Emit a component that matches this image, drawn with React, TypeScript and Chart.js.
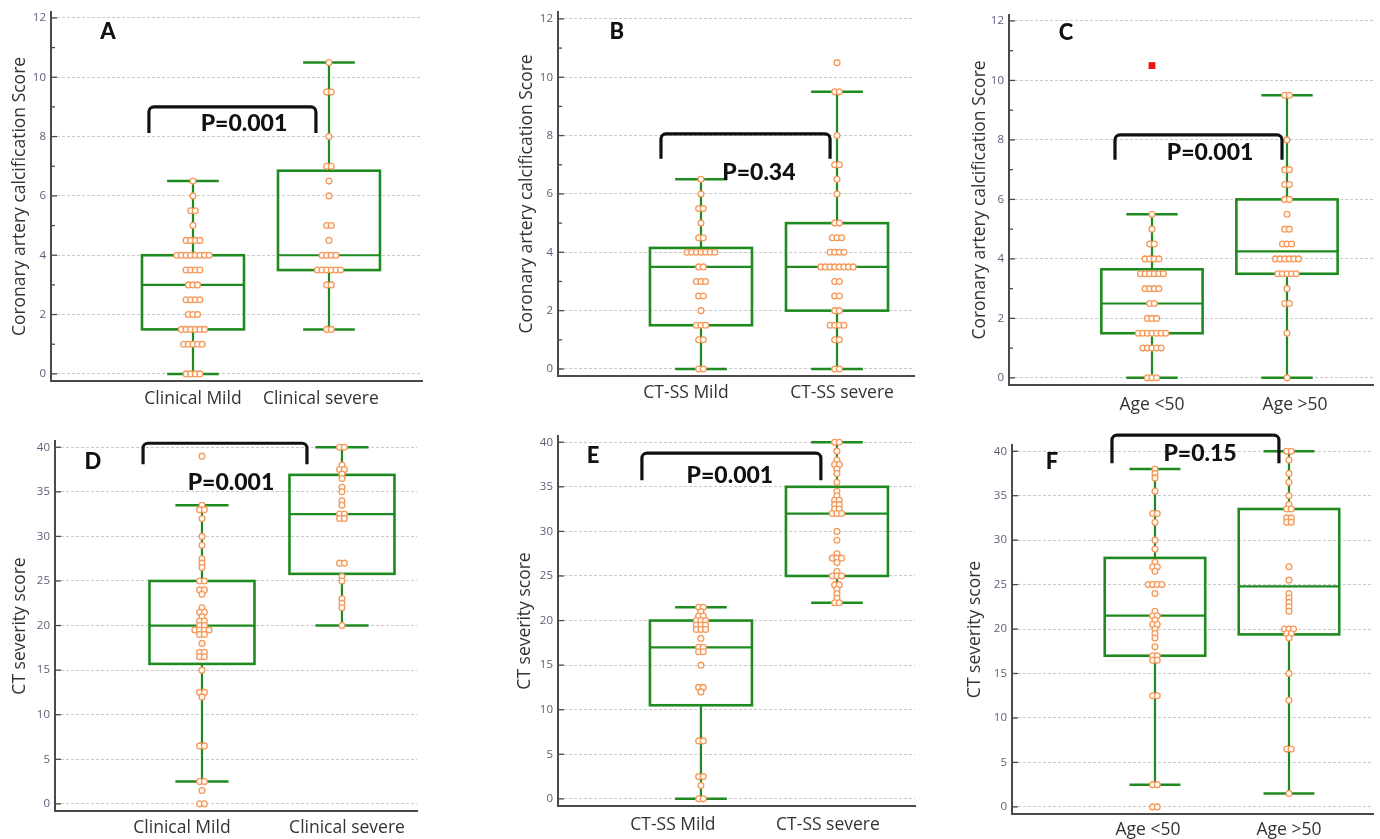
import { useEffect, useRef } from "react";
import { Chart, registerables } from "chart.js";

Chart.register(...registerables);

// ---------------- DATA ----------------
const catsClinical = ["Clinical Mild", "Clinical severe"];
const catsCTSS = ["CT-SS Mild", "CT-SS severe"];
const catsAge = ["Age <50", "Age >50"];

const cacTitle = "Coronary artery calcification Score";
const ctTitle = "CT severity score";

const cacTicks = [0, 2, 4, 6, 8, 10, 12];
const cacMinorTicks = [1, 3, 5, 7, 9, 11];
const ctTicks = [0, 5, 10, 15, 20, 25, 30, 35, 40];
const ctMinorTicks: number[] = [];

// Panel A: CAC score by clinical severity
const aMild = [6.5, 6, 5.5, 5.5, 5, 4.5, 4.5, 4.5, 4.5, 4, 4, 4, 4, 4, 4, 4, 4, 3.5, 3.5, 3.5, 3.5, 3, 3, 3, 2.5, 2.5, 2.5, 2.5, 2, 2, 2, 1.5, 1.5, 1.5, 1.5, 1.5, 1.5, 1, 1, 1, 1, 1, 0, 0, 0, 0];
const aSevere = [10.5, 9.5, 9.5, 8, 7, 7, 6.5, 6, 5, 5, 4.5, 4, 4, 4, 4, 3.5, 3.5, 3.5, 3.5, 3.5, 3.5, 3, 3, 1.5, 1.5];
const aMildStats = [0, 1.5, 3, 4, 6.5];
const aSevereStats = [1.5, 3.5, 4, 6.85, 10.5];

// Panel B: CAC score by CT-SS
const bMild = [6.5, 6, 5.5, 5.5, 5, 4.5, 4.5, 4, 4, 4, 4, 4, 4, 4, 3.5, 3.5, 3, 3, 3, 2.5, 2.5, 2, 1.5, 1.5, 1.5, 1, 1, 0, 0];
const bSevere = [10.5, 9.5, 9.5, 8, 7, 7, 6.5, 6, 5, 5, 4.5, 4.5, 4.5, 4, 4, 4, 4, 3.5, 3.5, 3.5, 3.5, 3.5, 3.5, 3.5, 3.5, 3, 3, 2.5, 2.5, 2, 2, 1.5, 1.5, 1.5, 1.5, 1, 1, 0, 0];
const bMildStats = [0, 1.5, 3.5, 4.15, 6.5];
const bSevereStats = [0, 2, 3.5, 5, 9.5];

// Panel C: CAC score by age
const cYoung = [5.5, 5, 4.5, 4.5, 4, 4, 4, 4, 3.5, 3.5, 3.5, 3.5, 3.5, 3.5, 3, 3, 3, 3, 2.5, 2.5, 2, 2, 2, 1.5, 1.5, 1.5, 1.5, 1.5, 1.5, 1.5, 1, 1, 1, 1, 1, 0, 0, 0];
const cOld = [9.5, 9.5, 8, 7, 7, 6.5, 6.5, 6, 6, 5.5, 5, 5, 4.5, 4.5, 4.5, 4, 4, 4, 4, 4, 4, 3.5, 3.5, 3.5, 3.5, 3.5, 3, 2.5, 2.5, 1.5, 0];
const cYoungOutliers = [10.5];
const cYoungStats = [0, 1.5, 2.5, 3.65, 5.5];
const cOldStats = [0, 3.5, 4.25, 6, 9.5];

// Panel D: CT severity by clinical severity
const dMild = [39, 33.5, 33, 33, 32, 30, 29, 27.5, 27, 26.5, 25, 25, 24, 24, 23.5, 22, 21.5, 21.5, 21, 20.5, 20.5, 20, 20, 19.5, 19.5, 19.5, 19.5, 19, 19, 18, 17, 17, 16.5, 16.5, 15, 12.5, 12.5, 12, 6.5, 6.5, 2.5, 2.5, 1.5, 0, 0];
const dSevere = [40, 40, 38, 37.5, 37.5, 37, 36.5, 35.5, 35, 34, 33.5, 32.5, 32.5, 32, 32, 27, 27, 25.5, 25, 23, 22.5, 22, 20];
const dMildStats = [2.5, 15.7, 20, 25, 33.5];
const dSevereStats = [20, 25.8, 32.5, 36.9, 40];

// Panel E: CT severity by CT-SS
const eMild = [21.5, 21.5, 21, 20.5, 20.5, 20, 20, 20, 19.5, 19.5, 19.5, 19, 19, 19, 18, 17, 17, 16.5, 16.5, 15, 12.5, 12.5, 12, 6.5, 6.5, 2.5, 2.5, 1.5, 0, 0];
const eSevere = [40, 40, 39, 38, 37.5, 37.5, 37, 36.5, 35.5, 34.5, 34, 33.5, 33.5, 33, 33, 32.5, 32.5, 32, 32, 32, 30, 29, 27.5, 27, 27, 27, 26.5, 25.5, 25, 25, 25, 24, 24, 23.5, 23, 22.5, 22, 22];
const eMildStats = [0, 10.5, 17, 20, 21.5];
const eSevereStats = [22, 25, 32, 35, 40];

// Panel F: CT severity by age
const fYoung = [38, 37.5, 37, 35.5, 33, 33, 32, 30, 29, 27.5, 27, 27, 26.5, 25, 25, 25, 25, 24, 22, 21.5, 21.5, 21, 20.5, 20.5, 20, 19.5, 19, 18, 17, 17, 16.5, 16.5, 12.5, 12.5, 2.5, 2.5, 0, 0];
const fOld = [40, 40, 39, 37.5, 36.5, 35, 34, 33.5, 33.5, 32.5, 32.5, 32, 32, 27, 25.5, 24, 23.5, 23, 22.5, 22, 20, 20, 20, 19.5, 19.5, 19, 15, 12, 6.5, 6.5, 1.5];
const fYoungStats = [2.5, 17, 21.5, 28, 38];
const fOldStats = [1.5, 19.4, 24.8, 33.5, 40];

// ---------------- STYLE / LAYOUT ----------------
const GREEN = "#1f8a1f";
const ORANGE = "#f4995a";
const FILL = "#fffaf6";
const FONT = "'Open Sans', 'Noto Sans', sans-serif";
const BOLD = "Lato, 'Open Sans', sans-serif";
const STEP = 0.034;
const BOX_HALF = 0.375;
const CAP_HALF = 0.19;
const LABEL_SIZE = 17.5;
const TITLE_SIZE = 17.5;

interface Panel {
  letter: string;
  pText: string;
  groups: number[][];
  stats: number[][];
  outliers: number[][];
  cats: string[];
  yTitle: string;
  yTicks: number[];
  yMinor: number[];
  yMin: number;
  yMax: number;
  xMin: number;
  xMax: number;
  left: number;
  top: number;
  width: number;
  height: number;
  axisW: number;
  padTop: number;
  padRight: number;
  xH: number;
  titleOff: number;
  labelPad: number;
  labelShift: number[];
  bracket: number[];
  pPos: number[];
  letterPos: number[];
}

const panels: Panel[] = [
  {
    letter: "A", pText: "P=0.001", groups: [aMild, aSevere], stats: [aMildStats, aSevereStats], outliers: [[], []],
    cats: catsClinical, yTitle: cacTitle, yTicks: cacTicks, yMinor: cacMinorTicks, yMin: -0.24, yMax: 12.2,
    xMin: -0.044, xMax: 2.684, left: 0, top: 0, width: 430, height: 420, axisW: 51, padTop: 12, padRight: 8,
    xH: 39, titleOff: 9.5, labelPad: 7.5, labelShift: [0, -0.06],
    bracket: [0.676, 1.904, 9.0, 8.12], pPos: [1.375, 8.43], letterPos: [0.375, 11.53],
  },
  {
    letter: "B", pText: "P=0.34", groups: [bMild, bSevere], stats: [bMildStats, bSevereStats], outliers: [[], []],
    cats: catsCTSS, yTitle: cacTitle, yTicks: cacTicks, yMinor: cacMinorTicks, yMin: -0.24, yMax: 12.24,
    xMin: -0.051, xMax: 2.566, left: 462, top: 0, width: 460, height: 420, axisW: 96, padTop: 7, padRight: 8,
    xH: 44, titleOff: 54.5, labelPad: 6.5, labelShift: [-0.11, 0.037],
    bracket: [0.706, 1.949, 8.06, 7.21], pPos: [1.426, 6.74], letterPos: [0.382, 11.55],
  },
  {
    letter: "C", pText: "P=0.001", groups: [cYoung, cOld], stats: [cYoungStats, cOldStats], outliers: [cYoungOutliers, []],
    cats: catsAge, yTitle: cacTitle, yTicks: cacTicks, yMinor: cacMinorTicks, yMin: -0.24, yMax: 12.2,
    xMin: -0.059, xMax: 2.637, left: 925, top: 0, width: 455, height: 420, axisW: 84, padTop: 15, padRight: 7,
    xH: 35, titleOff: 44.5, labelPad: 9.5, labelShift: [0, 0.06],
    bracket: [0.726, 1.963, 8.17, 7.33], pPos: [1.43, 7.56], letterPos: [0.363, 11.6],
  },
  {
    letter: "D", pText: "P=0.001", groups: [dMild, dSevere], stats: [dMildStats, dSevereStats], outliers: [[], []],
    cats: catsClinical, yTitle: ctTitle, yTicks: ctTicks, yMinor: ctMinorTicks, yMin: -0.8, yMax: 40.7,
    xMin: -0.05, xMax: 2.536, left: 0, top: 420, width: 430, height: 419, axisW: 55, padTop: 21, padRight: 13,
    xH: 28, titleOff: 9.5, labelPad: 6.5, labelShift: [-0.143, 0.036],
    bracket: [0.579, 1.75, 40.45, 38.1], pPos: [1.207, 36.08], letterPos: [0.221, 38.3],
  },
  {
    letter: "E", pText: "P=0.001", groups: [eMild, eSevere], stats: [eMildStats, eSevereStats], outliers: [[], []],
    cats: catsCTSS, yTitle: ctTitle, yTicks: ctTicks, yMinor: ctMinorTicks, yMin: -0.8, yMax: 40.7,
    xMin: -0.051, xMax: 2.574, left: 462, top: 420, width: 460, height: 419, axisW: 96, padTop: 16, padRight: 7,
    xH: 33, titleOff: 52.5, labelPad: 8.5, labelShift: [-0.206, -0.066],
    bracket: [0.566, 1.882, 38.77, 35.74], pPos: [1.213, 36.3], letterPos: [0.206, 38.43],
  },
  {
    letter: "F", pText: "P=0.15", groups: [fYoung, fOld], stats: [fYoungStats, fOldStats], outliers: [[], []],
    cats: catsAge, yTitle: ctTitle, yTicks: ctTicks, yMinor: ctMinorTicks, yMin: -0.8, yMax: 40.7,
    xMin: -0.067, xMax: 2.627, left: 925, top: 420, width: 455, height: 419, axisW: 87, padTop: 25, padRight: 7,
    xH: 25, titleOff: 39.5, labelPad: 5.5, labelShift: [-0.052, 0],
    bracket: [0.679, 1.925, 41.8, 38.65], pPos: [1.336, 39.78], letterPos: [0.231, 38.76],
  },
];

function swarm(values: number[], cat: number) {
  const counts = new Map<number, number>();
  values.forEach((v) => counts.set(v, (counts.get(v) || 0) + 1));
  const pts: { x: number; y: number }[] = [];
  counts.forEach((n, v) => {
    for (let k = 0; k < n; k++) pts.push({ x: cat + (k - (n - 1) / 2) * STEP, y: v });
  });
  return pts;
}

function makePlugin(p: Panel) {
  return {
    id: "boxplot" + p.letter,
    beforeDatasetsDraw(chart: any) {
      const { ctx, scales } = chart;
      const x = scales.x;
      const y = scales.y;
      const X = (v: number) => x.getPixelForValue(v);
      const Y = (v: number) => y.getPixelForValue(v);
      const line = (x1: number, y1: number, x2: number, y2: number) => {
        ctx.beginPath();
        ctx.moveTo(x1, y1);
        ctx.lineTo(x2, y2);
        ctx.stroke();
      };
      ctx.save();
      ctx.strokeStyle = "#4a4a4a";
      ctx.lineWidth = 1.3;
      const ax = chart.chartArea.left;
      p.yTicks.forEach((v) => line(ax, Y(v), ax + 6, Y(v)));
      p.yMinor.forEach((v) => line(ax, Y(v), ax + 4, Y(v)));
      ctx.strokeStyle = GREEN;
      p.stats.forEach(([mn, q1, med, q3, mx], i) => {
        const c = i + 1;
        const xc = X(c);
        ctx.lineWidth = 2.2;
        line(xc, Y(mx), xc, Y(q3));
        line(xc, Y(q1), xc, Y(mn));
        ctx.lineWidth = 2.5;
        line(X(c - CAP_HALF), Y(mx), X(c + CAP_HALF), Y(mx));
        line(X(c - CAP_HALF), Y(mn), X(c + CAP_HALF), Y(mn));
        ctx.lineWidth = 2.6;
        ctx.strokeRect(X(c - BOX_HALF), Y(q3), X(c + BOX_HALF) - X(c - BOX_HALF), Y(q1) - Y(q3));
        ctx.lineWidth = 2.2;
        line(X(c - BOX_HALF), Y(med), X(c + BOX_HALF), Y(med));
      });
      ctx.restore();
    },
    afterDraw(chart: any) {
      const { ctx, scales } = chart;
      const X = (v: number) => scales.x.getPixelForValue(v);
      const Y = (v: number) => scales.y.getPixelForValue(v);
      ctx.save();
      const [b1, b2, bt, bb] = p.bracket;
      ctx.strokeStyle = "#111";
      ctx.lineWidth = 3.2;
      ctx.lineJoin = "round";
      ctx.beginPath();
      ctx.moveTo(X(b1), Y(bb));
      ctx.arcTo(X(b1), Y(bt), X(b2), Y(bt), 5);
      ctx.arcTo(X(b2), Y(bt), X(b2), Y(bb), 5);
      ctx.lineTo(X(b2), Y(bb));
      ctx.stroke();
      ctx.fillStyle = "#111";
      ctx.textAlign = "center";
      ctx.textBaseline = "middle";
      ctx.font = `900 23px ${BOLD}`;
      ctx.fillText(p.pText, X(p.pPos[0]), Y(p.pPos[1]));
      ctx.font = `900 22px ${BOLD}`;
      ctx.fillText(p.letter, X(p.letterPos[0]), Y(p.letterPos[1]));
      ctx.restore();
    },
  };
}

function PanelChart({ p }: { p: Panel }) {
  const ref = useRef<HTMLCanvasElement | null>(null);
  useEffect(() => {
    if (!ref.current) return;
    const datasets: any[] = p.groups.map((g, i) => ({
      data: swarm(g, i + 1),
      pointRadius: 2.9,
      pointHoverRadius: 2.9,
      pointBorderWidth: 1.3,
      pointBorderColor: ORANGE,
      pointBackgroundColor: FILL,
      showLine: false,
      clip: false,
    }));
    p.outliers.forEach((o, i) => {
      if (o.length)
        datasets.push({
          data: o.map((v) => ({ x: i + 1, y: v })),
          pointStyle: "rect",
          pointRadius: 4.8,
          pointBorderWidth: 0,
          pointBackgroundColor: "#ee1111",
          pointBorderColor: "#ee1111",
          showLine: false,
          clip: false,
        });
    });
    const chart = new Chart(ref.current, {
      type: "scatter",
      data: { datasets },
      options: {
        responsive: false,
        animation: false,
        events: [],
        layout: { padding: { left: 0, top: p.padTop, right: p.padRight, bottom: 0 } },
        plugins: { legend: { display: false }, tooltip: { enabled: false } },
        scales: {
          x: {
            type: "linear",
            min: p.xMin,
            max: p.xMax,
            afterBuildTicks: (s: any) => {
              s.ticks = [{ value: 1 + p.labelShift[0] }, { value: 2 + p.labelShift[1] }];
            },
            afterFit: (s: any) => {
              s.height = p.xH;
            },
            ticks: {
              callback: (_v: any, i: number) => p.cats[i],
              padding: p.labelPad,
              autoSkip: false,
              maxRotation: 0,
              minRotation: 0,
              color: "#333",
              font: { family: FONT, size: LABEL_SIZE },
            },
            grid: { display: false, drawTicks: false },
            border: { display: true, color: "#4a4a4a", width: 2 },
          },
          y: {
            type: "linear",
            min: p.yMin,
            max: p.yMax,
            afterBuildTicks: (s: any) => {
              s.ticks = p.yTicks.map((v) => ({ value: v }));
            },
            afterFit: (s: any) => {
              s.width = p.axisW;
            },
            ticks: {
              padding: 5,
              color: "#5a5e7a",
              font: { family: FONT, size: 11.5 },
            },
            grid: { color: "#c9c9c9", lineWidth: 1, drawTicks: false, tickBorderDash: [] },
            border: { display: true, color: "#4a4a4a", width: 2, dash: [3, 2] },
            title: {
              display: true,
              text: p.yTitle,
              color: "#333",
              font: { family: FONT, size: TITLE_SIZE },
              padding: { top: p.titleOff, bottom: 0 },
            },
          },
        },
      } as any,
      plugins: [makePlugin(p)],
    });
    return () => chart.destroy();
  }, [p]);
  return (
    <canvas
      ref={ref}
      width={p.width}
      height={p.height}
      style={{ position: "absolute", left: p.left, top: p.top, width: p.width, height: p.height }}
    />
  );
}

export default function App() {
  return (
    <div style={{ position: "absolute", left: 0, top: 0, width: 1380, height: 839, background: "#fff", overflow: "hidden" }}>
      {panels.map((p) => (
        <PanelChart key={p.letter} p={p} />
      ))}
    </div>
  );
}
